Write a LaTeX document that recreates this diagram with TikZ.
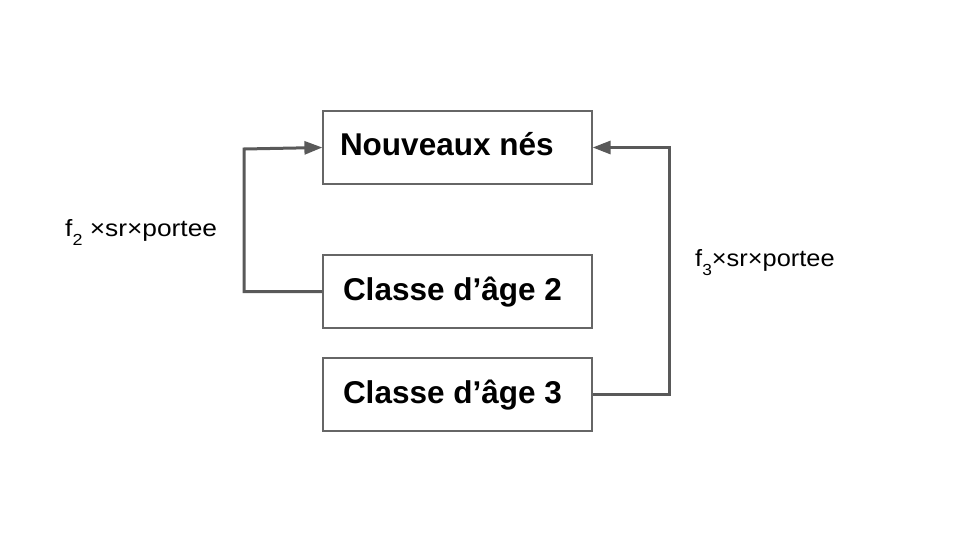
\documentclass[tikz,border=0pt]{standalone}
\usepackage{fontspec}
\setmainfont{Liberation Sans}
\usetikzlibrary{arrows.meta}
\definecolor{linegray}{HTML}{595959}
\definecolor{boxgray}{HTML}{666666}
\newcommand{\subidx}[1]{\raisebox{-0.4em}{\fontsize{16}{18}\selectfont #1}}
\begin{document}
\begin{tikzpicture}[x=1pt,y=-1pt,
  boxnode/.style={draw=boxgray,line width=1.2pt,rectangle,minimum width=269pt,minimum height=73pt,
    inner sep=0pt,text height=22.5pt,text depth=4pt,font=\fontsize{31.5}{34}\selectfont\bfseries},
  conn/.style={draw=linegray,line width=3pt},
  arr/.style={conn,-{Triangle[length=18pt,width=13pt]}},
  lbl/.style={inner sep=0pt,anchor=base west,font=\fontsize{23.5}{27}\selectfont}]
\useasboundingbox (0,0) rectangle (960,540);
\node[boxnode,text depth=7pt] (nn) at (457.5,147.5) {\makebox[229pt][l]{\hspace*{-3pt}Nouveaux nés}};
\node[boxnode] (c2) at (457.5,291.5) {\makebox[229pt][l]{Classe d’âge 2}};
\node[boxnode] (c3) at (457.5,394.5) {\makebox[229pt][l]{Classe d’âge 3}};
\coordinate (lc) at (244,291.5);
\coordinate (lt) at (244,149);
\coordinate (rc) at (669,394.5);
\draw[arr] (c2.west) -- (lc) -- (lt) -- (nn.west);
\draw[arr] (c3.east) -- (rc) |- (nn.east);
\node[lbl] (l2) at (65,236) {\scalebox{1.12}[1]{f\subidx{2} ×sr×portee}};
\node[lbl] (l3) at (695,266) {\scalebox{1.08}[1]{f\subidx{3}×sr×portee}};
\end{tikzpicture}
\end{document}
